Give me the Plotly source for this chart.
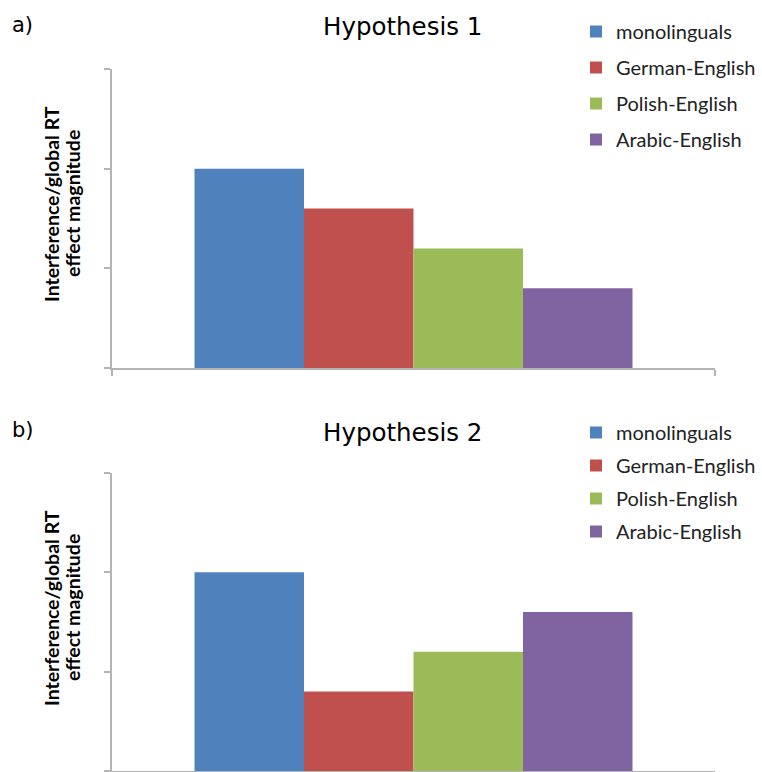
import plotly.graph_objects as go

W, H = 762, 772

groups = ["monolinguals", "German-English", "Polish-English", "Arabic-English"]
colors = ["#4F81BD", "#C0504D", "#9BBB59", "#8064A2"]
hyp1_values = [2.0, 1.6, 1.2, 0.8]
hyp2_values = [2.0, 0.8, 1.2, 1.6]
category = ["effect"]
panel_titles = ["Hypothesis 1", "Hypothesis 2"]
panel_labels = ["a)", "b)"]
y_title_lines = ["Interference/global RT", "effect magnitude"]

ML, MR = 112, 47
def px_x(p):
    return (p - ML) / (W - ML - MR)
def px_y(p):
    return (H - p) / H

fig = go.Figure()
for i, g in enumerate(groups):
    fig.add_trace(go.Bar(x=category, y=[hyp1_values[i]], name=g, marker_color=colors[i],
                         marker_line_width=0, xaxis="x", yaxis="y",
                         legend="legend", legendgroup="a%d" % i))
for i, g in enumerate(groups):
    fig.add_trace(go.Bar(x=category, y=[hyp2_values[i]], name=g, marker_color=colors[i],
                         marker_line_width=0, xaxis="x2", yaxis="y2",
                         legend="legend2", legendgroup="b%d" % i))

axcol = "#B4B4B4"
xcommon = dict(range=[-0.5, 0.5], showline=True, linecolor=axcol, linewidth=1.5,
               ticks="outside", ticklen=6, tickcolor=axcol, tickwidth=1.5,
               tickson="boundaries", showticklabels=False, showgrid=False,
               zeroline=False, fixedrange=True)
ycommon = dict(range=[0, 3], dtick=1, showline=True, linecolor=axcol, linewidth=1.5,
               ticks="outside", ticklen=6, tickcolor=axcol, tickwidth=1.5,
               showticklabels=False, showgrid=False, zeroline=False)

leg_font = dict(family="Lato, 'Liberation Sans', sans-serif", size=20, color="#222222")

fig.update_layout(
    width=W, height=H,
    margin=dict(l=ML, r=MR, t=0, b=0, autoexpand=False),
    paper_bgcolor="white", plot_bgcolor="white",
    barmode="group", bargap=0.2736, bargroupgap=0,
    xaxis=dict(domain=[0, 1], anchor="y", **xcommon),
    yaxis=dict(domain=[px_y(368), px_y(69)], anchor="x", **ycommon),
    xaxis2=dict(domain=[0, 1], anchor="y2", **xcommon),
    yaxis2=dict(domain=[px_y(771), px_y(473)], anchor="x2", **ycommon),
    legend=dict(xref="container", yref="container", x=576 / W, y=1 - 12 / H,
                xanchor="left", yanchor="top", font=leg_font,
                tracegroupgap=7, traceorder="grouped", bgcolor="rgba(0,0,0,0)"),
    legend2=dict(xref="container", yref="container", x=576 / W, y=1 - 413 / H,
                 xanchor="left", yanchor="top", font=leg_font,
                 tracegroupgap=4, traceorder="grouped", bgcolor="rgba(0,0,0,0)"),
    showlegend=True,
)

annots = []
title_font = dict(family="DejaVu Sans, Verdana, sans-serif", size=24.5, color="black")
yt_font = dict(family="Lato, 'Liberation Sans', sans-serif", size=19.5, color="black")
for t, lab, ty, ly, yt in zip(panel_titles, panel_labels, [26, 432], [25, 430], [204, 608]):
    annots.append(dict(text=t, x=px_x(402), y=px_y(ty), xref="paper", yref="paper",
                       xanchor="center", yanchor="middle", showarrow=False, font=title_font))
    annots.append(dict(text=lab, x=px_x(10), y=px_y(ly), xref="paper", yref="paper",
                       xanchor="left", yanchor="middle", showarrow=False,
                       font=dict(family="DejaVu Sans, Verdana, sans-serif", size=21, color="black")))
    for line, lx in zip(y_title_lines, [51, 72]):
        annots.append(dict(text="<b>" + line + "</b>", x=px_x(lx), y=px_y(yt), xref="paper", yref="paper",
                           xanchor="center", yanchor="middle", showarrow=False, textangle=-90,
                           font=yt_font))
fig.update_layout(annotations=annots)

fig.write_html("out.html", config={"displayModeBar": False},
               post_script="document.body.style.margin='0';")
